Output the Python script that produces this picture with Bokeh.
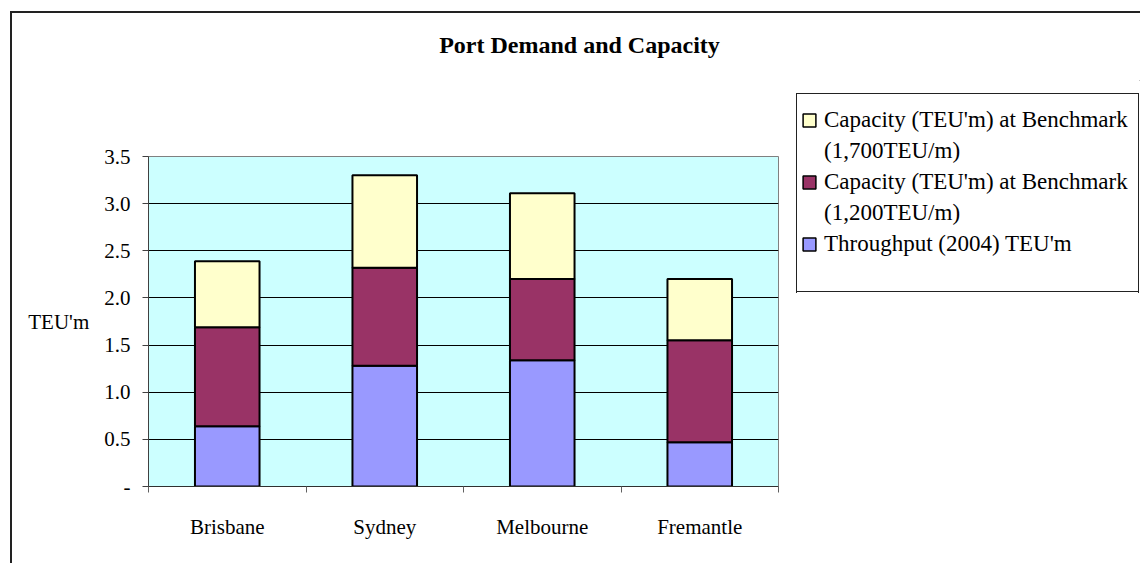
from bokeh.plotting import figure
from bokeh.models import (FixedTicker, NumeralTickFormatter, Range1d, ColumnDataSource,
                          Legend, LegendItem, Label)
from bokeh.layouts import column, row
from bokeh.embed import file_html
from bokeh.resources import INLINE

# ---- data ----
ports = ["Brisbane", "Sydney", "Melbourne", "Fremantle"]
throughput_2004 = [0.64, 1.28, 1.34, 0.47]          # Throughput (2004) TEU'm
capacity_1200_extra = [1.05, 1.04, 0.86, 1.08]      # stacked segment up to capacity @1,200TEU/m
capacity_1700_extra = [0.70, 0.98, 0.91, 0.65]      # stacked segment up to capacity @1,700TEU/m
y_ticks = [0, 0.5, 1.0, 1.5, 2.0, 2.5, 3.0, 3.5]
stack_colors = ["#9999FF", "#993366", "#FFFFCC"]
legend_lines = [
    ("Capacity (TEU'm) at Benchmark", 2),
    ("(1,700TEU/m)", None),
    ("Capacity (TEU'm) at Benchmark", 1),
    ("(1,200TEU/m)", None),
    ("Throughput (2004) TEU'm", 0),
]
title_text = "Port Demand and Capacity"
y_label = "TEU'm"

FONT = "Liberation Serif"
W, H = 1140, 563
TOP_H = 80                       # height of the title strip
MAIN_W = 784                     # width of the main plot canvas
FL, FR, FT, FB = 148, 778, 156, 486   # frame edges in page pixels

# decorative lines (outer chart border + legend box) drawn as CSS backgrounds
lines = [  # (x, y, w, h)
    (10, 11, 2, 700), (10, 11, 1300, 2),
    (796, 93, 1, 200), (1138, 93, 1, 200), (796, 93, 343, 1), (796, 291, 343, 1),
]
css = {
    "background-color": "white",
    "background-image": ", ".join(["linear-gradient(#222222, #222222)"] * len(lines)),
    "background-repeat": "no-repeat",
    "background-position": ", ".join(f"{x}px {y}px" for x, y, w, h in lines),
    "background-size": ", ".join(f"{w}px {h}px" for x, y, w, h in lines),
}


def blank_fig(w, h, xr, yr):
    f = figure(width=w, height=h, x_range=xr, y_range=yr, output_backend="svg",
               toolbar_location=None, x_axis_location=None, y_axis_location=None,
               min_border=0, min_border_left=0, min_border_right=0,
               min_border_top=0, min_border_bottom=0)
    f.grid.visible = False
    f.outline_line_color = None
    f.background_fill_alpha = 0
    f.border_fill_alpha = 0
    try:
        f.frame_align = False
    except Exception:
        pass
    return f


# ---- title strip ----
t = blank_fig(W, TOP_H, Range1d(0, W), Range1d(TOP_H, 0))
t.add_layout(Label(x=579, y=44, text=title_text, text_font=FONT, text_font_size="24px",
                   text_font_style="bold", text_align="center", text_baseline="middle",
                   text_color="black"))

# ---- main plot ----
p = figure(width=MAIN_W, height=H - TOP_H, x_range=Range1d(0, len(ports)),
           y_range=Range1d(0, 3.5), output_backend="svg", toolbar_location=None,
           min_border_left=FL, min_border_right=MAIN_W - FR,
           min_border_top=FT - TOP_H, min_border_bottom=H - FB)
p.border_fill_alpha = 0
try:
    p.frame_align = False
except Exception:
    pass

xs = [i + 0.5 for i in range(len(ports))]
source = ColumnDataSource(dict(x=xs, t=throughput_2004, c12=capacity_1200_extra,
                               c17=capacity_1700_extra))
p.vbar_stack(["t", "c12", "c17"], x="x", width=0.41, source=source,
             fill_color=stack_colors, line_color="black", line_width=2)

p.background_fill_color = "#CCFFFF"
p.outline_line_color = "#808080"
p.outline_line_width = 1

p.xaxis.ticker = FixedTicker(ticks=xs, minor_ticks=list(range(len(ports) + 1)))
p.xaxis.major_label_overrides = {x: name for x, name in zip(xs, ports)}
p.xaxis.major_tick_out = 0
p.xaxis.major_tick_in = 0
p.xaxis.minor_tick_out = 6
p.xaxis.minor_tick_in = 0
p.xaxis.minor_tick_line_color = "#606060"
p.xaxis.axis_line_color = "#303030"
p.xaxis.major_label_standoff = 22
p.xaxis.major_label_text_font = FONT
p.xaxis.major_label_text_font_size = "21px"
p.xaxis.major_label_text_color = "black"

p.yaxis.ticker = FixedTicker(ticks=y_ticks)
p.yaxis.formatter = NumeralTickFormatter(format="0.0")
p.yaxis.major_label_overrides = {0: "-"}
p.yaxis.major_tick_out = 6
p.yaxis.major_tick_in = 0
p.yaxis.minor_tick_line_color = None
p.yaxis.axis_line_color = "#404040"
p.yaxis.major_tick_line_color = "#404040"
p.yaxis.major_label_standoff = 12
p.yaxis.major_label_text_font = FONT
p.yaxis.major_label_text_font_size = "21px"
p.yaxis.major_label_text_color = "black"
p.yaxis.axis_label = y_label
p.yaxis.axis_label_text_font = FONT
p.yaxis.axis_label_text_font_size = "21px"
p.yaxis.axis_label_text_font_style = "normal"
p.yaxis.axis_label_text_color = "black"
p.yaxis.axis_label_standoff = 12
try:
    p.yaxis.axis_label_orientation = "horizontal"
except Exception:
    pass

p.xgrid.visible = False
p.ygrid.ticker = FixedTicker(ticks=[v for v in y_ticks if 0 < v < 3.5])
p.ygrid.grid_line_color = "black"
p.ygrid.grid_line_width = 1

# ---- legend strip (its frame covers the whole strip) ----
LW = W - MAIN_W
LH = H - TOP_H
lg = blank_fig(LW, LH, Range1d(0, 1), Range1d(0, 1))
# legend swatch renderers: one point each, placed outside the visible range
swatches = [lg.vbar(x=[10], top=[10], bottom=[9], width=0.1, fill_color=c,
                    line_color="black", line_width=1.5)
            for c in stack_colors]
blank = lg.vbar(x=[10], top=[10], bottom=[9], width=0.1, fill_alpha=0, line_alpha=0)
items = [LegendItem(label=text, renderers=[swatches[idx] if idx is not None else blank])
         for text, idx in legend_lines]
LEG_TOP, LEG_LEFT = 107, 801
leg_h = len(legend_lines) * 26 + (len(legend_lines) - 1) * 5
legend = Legend(items=items, location=(LEG_LEFT - MAIN_W, H - (LEG_TOP + leg_h)),
                orientation="vertical", padding=0, margin=0, spacing=5,
                glyph_width=16, glyph_height=16, label_height=26, label_standoff=7,
                label_text_font=FONT, label_text_font_size="23px", label_text_color="black",
                border_line_color=None, background_fill_alpha=0)
lg.add_layout(legend)

layout = column(t, row(p, lg, spacing=0), spacing=0, styles=css)
open("out.html", "w").write(file_html(layout, INLINE))
